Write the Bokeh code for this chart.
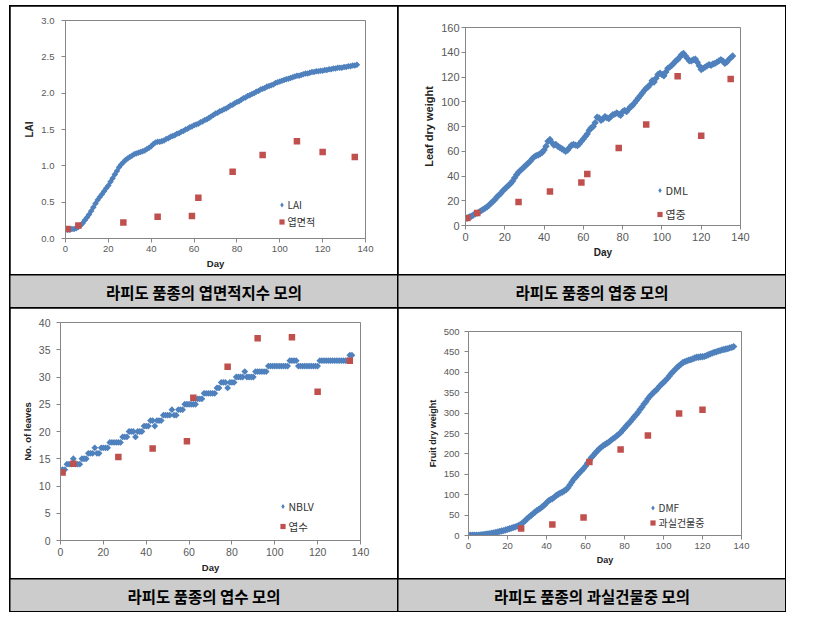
import math
from bokeh.plotting import figure
from bokeh.models import Range1d, SingleIntervalTicker, NumeralTickFormatter, Legend, LegendItem
from bokeh.layouts import column, row
from bokeh.embed import file_html
from bokeh.resources import INLINE
from bokeh.core.properties import value

# ---------------- data ----------------
days = list(range(137))

lai_sim = [0.12, 0.12, 0.12, 0.13, 0.13, 0.14, 0.16, 0.18, 0.21, 0.25,
           0.29, 0.33, 0.38, 0.43, 0.48, 0.53, 0.57, 0.61, 0.65, 0.69,
           0.73, 0.78, 0.83, 0.88, 0.93, 0.98, 1.02, 1.05, 1.08, 1.10,
           1.12, 1.14, 1.16, 1.17, 1.18, 1.19, 1.20, 1.21, 1.23, 1.25,
           1.27, 1.30, 1.32, 1.33, 1.33, 1.34, 1.35, 1.37, 1.38, 1.40,
           1.41, 1.42, 1.44, 1.45, 1.47, 1.48, 1.50, 1.51, 1.53, 1.54,
           1.56, 1.57, 1.58, 1.60, 1.61, 1.63, 1.64, 1.66, 1.68, 1.70,
           1.72, 1.73, 1.75, 1.76, 1.78, 1.79, 1.81, 1.83, 1.84, 1.86,
           1.88, 1.89, 1.91, 1.93, 1.94, 1.96, 1.97, 1.99, 2.00, 2.02,
           2.03, 2.05, 2.06, 2.07, 2.09, 2.10, 2.11, 2.12, 2.14, 2.15,
           2.16, 2.17, 2.18, 2.19, 2.20, 2.21, 2.22, 2.23, 2.24, 2.24,
           2.25, 2.26, 2.27, 2.27, 2.28, 2.29, 2.29, 2.30, 2.30, 2.31,
           2.31, 2.32, 2.32, 2.33, 2.33, 2.34, 2.34, 2.35, 2.35, 2.35,
           2.36, 2.36, 2.37, 2.37, 2.38, 2.38, 2.39]

dml_sim = [5.5, 6, 7, 7.5, 8.5, 9.5, 10, 11, 12, 13,
           14, 15, 16.5, 18, 19.5, 21, 23, 24.5, 26, 28,
           29.5, 31, 32.5, 34, 36, 38.5, 41, 43, 44.5, 46,
           47.5, 49, 50.5, 52, 54, 55.5, 56.5, 57, 58, 59,
           61, 64, 68, 69.5, 67, 65, 65.5, 64, 63, 62,
           61, 60, 61, 63, 65, 65.5, 65, 64.5, 66, 68,
           70, 72, 74, 77, 79, 80, 83, 87.5, 87, 85,
           86, 88, 87, 86.5, 88, 89.5, 90, 91, 90, 89,
           92, 93, 92, 94, 96, 97, 99, 101, 103, 105,
           107, 109, 111, 112, 114, 117, 116, 119, 122, 123,
           122, 121, 124, 127, 128, 129.5, 131, 133, 134, 136,
           138, 139, 137, 135, 133, 133, 134, 134.5, 132, 129,
           126, 127, 128, 129, 130, 129.5, 130.5, 131, 132, 133,
           134, 133, 131, 132, 134, 135.5, 137]

nblv_sim = [13, 13, 13, 14, 14, 14, 15, 14, 14, 14,
            15, 15, 15, 16, 16, 16, 17, 16, 16, 17,
            17, 17, 17, 18, 18, 18, 18, 18, 18, 19,
            19, 19, 20, 20, 20, 19, 20, 20, 20, 21,
            21, 21, 22, 22, 21, 22, 22, 22, 23, 23,
            23, 23, 24, 23, 23, 24, 24, 24, 25, 25,
            25, 25, 25, 25, 26, 26, 26, 27, 27, 27,
            27, 27, 27, 28, 28, 29, 29, 29, 28, 29,
            29, 29, 30, 30, 30, 30, 31, 30, 30, 30,
            30, 31, 31, 31, 31, 31, 31, 32, 32, 32,
            32, 32, 32, 32, 32, 32, 32, 33, 33, 33,
            33, 32, 32, 32, 32, 32, 32, 32, 32, 32,
            32, 33, 33, 33, 33, 33, 33, 33, 33, 33,
            33, 33, 33, 33, 33, 34, 34]

dmf_sim = [1, 1, 1, 1, 1, 1, 1.5, 2, 2.5, 3,
           4, 4.5, 5.5, 6.5, 7.5, 8.5, 10, 11, 12, 13.5,
           15, 16.5, 18, 19.5, 21, 23, 25, 28, 32, 36,
           41, 45, 49, 53, 57, 61, 64, 67, 71, 75,
           80, 85, 88, 90, 94, 98, 101, 104, 106, 109,
           112, 117, 124, 131, 138, 143, 149, 154, 159, 164,
           170, 177, 184, 191, 196, 202, 207, 212, 216, 220,
           223, 226, 229, 233, 237, 240, 244, 248, 252, 258,
           263, 269, 274, 279, 285, 291, 296, 302, 309, 315,
           322, 328, 335, 341, 346, 351, 355, 360, 366, 371,
           375, 380, 385, 391, 397, 402, 407, 412, 416, 420,
           424, 426, 428, 430, 431, 433, 435, 437, 437, 438,
           438, 439, 441, 443, 445, 447, 449, 450, 452, 453,
           455, 456, 457, 458, 460, 461, 463]

obs_days = [1, 6, 27, 43, 59, 62, 78, 92, 108, 120, 135]
lai_obs = [0.13, 0.18, 0.22, 0.30, 0.31, 0.56, 0.92, 1.15, 1.34, 1.19, 1.12]
dml_obs = [6.0, 10.2, 19.0, 27.4, 34.7, 41.7, 62.6, 81.7, 120.7, 72.6, 118.3]
nleaf_obs = [12.5, 14.1, 15.3, 16.9, 18.2, 26.2, 31.9, 37.1, 37.3, 27.3, 33.0]
fruit_days = [27, 43, 59, 62, 78, 92, 108, 120]
fruit_obs = [17, 27, 44, 180, 211, 245, 299, 308]

captions = ["라피도 품종의 엽면적지수 모의", "라피도 품종의 엽중 모의",
            "라피도 품종의 엽수 모의", "라피도 품종의 과실건물중 모의"]

# ---------------- style ----------------
BLUE = "#4F81BD"
RED = "#C0504D"
GRAYLINE = "#868686"
TICKC = "#595959"
CAPBG = "#CCCCCC"
LATIN = "Liberation Sans"
KR = "Noto Sans CJK KR"
CELL_W = 387


def make_chart(h, borders, ymax, yint, yfmt, ylabel, sim, obs_x, obs_y,
               sim_name, obs_name, tick_fs, lab_fs, leg_fs, y_std, leg_loc, leg_h,
               ylab_fs=None, msize=5.0):
    left, right, top, bottom = borders
    p = figure(width=CELL_W, height=h, output_backend="svg", toolbar_location=None,
               title=None,
               x_range=Range1d(0, 140), y_range=Range1d(0, ymax),
               min_border_left=left, min_border_right=right,
               min_border_top=top, min_border_bottom=bottom)
    p.frame_align = False
    p.background_fill_color = "white"
    p.border_fill_color = "white"
    p.outline_line_color = GRAYLINE
    p.outline_line_width = 1
    p.grid.visible = False
    p.xaxis.ticker = SingleIntervalTicker(interval=20, num_minor_ticks=0)
    p.yaxis.ticker = SingleIntervalTicker(interval=yint, num_minor_ticks=0)
    p.yaxis.formatter = NumeralTickFormatter(format=yfmt)
    for ax in (p.xaxis[0], p.yaxis[0]):
        ax.axis_line_color = GRAYLINE
        ax.major_tick_line_color = GRAYLINE
        ax.major_tick_out = 4
        ax.major_tick_in = 0
        ax.minor_tick_line_color = None
        ax.major_label_text_color = TICKC
        ax.major_label_text_font = LATIN
        ax.major_label_text_font_size = tick_fs
        ax.axis_label_text_font = LATIN
        ax.axis_label_text_font_style = "bold"
        ax.axis_label_text_color = "#222222"
    p.xaxis.axis_label = "Day"
    p.xaxis.axis_label_text_font_size = lab_fs
    p.xaxis.major_label_standoff = 3
    p.xaxis.axis_label_standoff = 3
    p.yaxis.axis_label = ylabel
    p.yaxis.axis_label_text_font_size = ylab_fs or lab_fs
    p.yaxis.major_label_standoff = y_std
    p.yaxis.axis_label_standoff = 3

    # small diamonds under the curve (also used for the legend symbol)
    r_leg = p.scatter(days, sim, marker="diamond", size=5, color=BLUE, line_width=0)
    p.scatter(days, sim, marker="square", angle=math.pi / 4, size=msize,
              color=BLUE, line_width=0)
    r_obs = p.scatter(obs_x, obs_y, marker="square", size=6.5, color=RED, line_width=0)

    leg = Legend(items=[LegendItem(label=sim_name, renderers=[r_leg]),
                        LegendItem(label=obs_name, renderers=[r_obs])],
                 location=leg_loc, padding=0, spacing=0, margin=0,
                 glyph_width=13, glyph_height=leg_h, label_height=leg_h,
                 label_standoff=0, border_line_color=None,
                 background_fill_alpha=0,
                 label_text_font=KR, label_text_font_size=leg_fs,
                 label_text_color="#333333", label_text_baseline="middle")
    p.add_layout(leg)
    return p


def make_caption(txt, h):
    c = figure(width=CELL_W, height=h, output_backend="svg", toolbar_location=None,
               title=None,
               x_range=Range1d(0, 1), y_range=Range1d(0, 1), min_border=0,
               x_axis_location=None, y_axis_location=None)
    c.frame_align = False
    c.grid.visible = False
    c.outline_line_color = None
    c.background_fill_color = CAPBG
    c.border_fill_color = CAPBG
    c.text(x=[0.5], y=[0.5], text=[txt], text_align="center", text_baseline="middle",
           text_font=value(KR), text_font_style="bold", text_font_size="15.5px",
           text_color="black")
    return c


def blank(w, h):
    b = figure(width=w, height=h, output_backend="svg", toolbar_location=None,
               title=None, min_border=0, x_axis_location=None, y_axis_location=None)
    b.frame_align = False
    b.grid.visible = False
    b.outline_line_color = None
    b.background_fill_color = "white"
    b.border_fill_color = "white"
    return b


f1 = make_chart(268, (55, 32, 14, 36), 3.0, 0.5, "0.0", "LAI", lai_sim,
                obs_days, lai_obs, "LAI", "엽면적", "9.5px", "9.5px", "10px", 7,
                (209.5, 8), 17, ylab_fs="10px", msize=4.6)
f2 = make_chart(268, (67, 45, 21, 49), 160, 20, "0", "Leaf dry weight", dml_sim,
                obs_days, dml_obs, "DML", "엽중", "11px", "10px", "11px", 2,
                (187.5, -1), 24, ylab_fs="11px", msize=5.2)
f3 = make_chart(270, (50, 37, 14, 38), 40, 5, "0", "No. of leaves", nblv_sim,
                obs_days, nleaf_obs, "NBLV", "엽수", "10.5px", "9.5px", "10.5px", 6,
                (215.5, 4), 20, msize=4.8)
f4 = make_chart(270, (70, 44, 23, 43), 500, 50, "0", "Fruit dry weight", dmf_sim,
                fruit_days, fruit_obs, "DMF", "과실건물중", "9.5px", "9px", "10px", 5,
                (177.5, 5.5), 15, msize=5.2)

c1 = make_caption(captions[0], 32)
c2 = make_caption(captions[1], 32)
c3 = make_caption(captions[2], 32)
c4 = make_caption(captions[3], 32)

table = column(
    row(f1, f2, spacing=1),
    row(c1, c2, spacing=1),
    row(f3, f4, spacing=1),
    row(c3, c4, spacing=1),
    spacing=1,
    styles={"background-color": "black", "padding": "1px"},
)

page = column(blank(786, 5), row(blank(9, 607), table))

open("out.html", "w").write(file_html(page, INLINE))
